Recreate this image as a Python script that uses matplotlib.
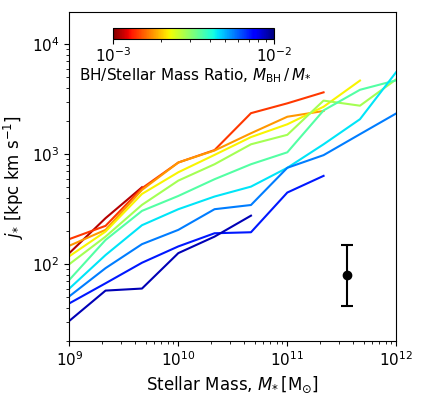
import numpy as np
import matplotlib
matplotlib.use("Agg")
import matplotlib.pyplot as plt
from matplotlib.colors import LogNorm
from matplotlib.cm import ScalarMappable
from matplotlib.ticker import NullFormatter

nan = np.nan
stellar_mass = [1e9, 2.15e9, 4.64e9, 1e10, 2.15e10, 4.64e10, 1e11, 2.15e11, 4.64e11, 1e12]
bh_ratio = [10 ** (-2.95 + 0.1 * k) for k in range(10)]

j_darkred = [126, 262, 500, nan, nan, nan, nan, nan, nan, nan]
j_redorange = [169, 223, 490, 840, 1090, 2360, 2900, 3650, nan, nan]
j_orange = [147, 205, 473, 840, 1080, 1550, 2190, 2470, nan, nan]
j_yellow = [118, 198, 435, 685, 985, 1430, 1870, 2700, 4670, nan]
j_lightgreen = [100, 178, 346, 575, 810, 1230, 1500, 3070, 2760, 4800]
j_aquamarine = [72, 166, 305, 417, 592, 810, 1040, 2500, 3850, 4700]
j_cyan = [60, 121, 226, 316, 412, 507, 752, 1230, 2080, 5600]
j_dodger = [51, 92, 152, 205, 316, 345, 752, 980, 1520, 2350]
j_blue = [44, 67, 103, 145, 191, 195, 448, 635, nan, nan]
j_navy = [30.5, 57.5, 60, 126, 178, 276, nan, nan, nan, nan]
series = [j_darkred, j_redorange, j_orange, j_yellow, j_lightgreen,
          j_aquamarine, j_cyan, j_dodger, j_blue, j_navy]

err_x = 3.5e11
err_y = 80
err_lo = 80 - 42
err_hi = 150 - 80

fig = plt.figure(figsize=(4.36, 3.97), dpi=100)
ax = fig.add_axes([0.159, 0.141, 0.750, 0.828])
cmap = plt.get_cmap("jet_r")
norm = LogNorm(1e-3, 1e-2)
for r, ys in zip(bh_ratio, series):
    ax.plot(stellar_mass, ys, color=cmap(norm(r)), lw=1.5)

ax.errorbar([err_x], [err_y], yerr=[[err_lo], [err_hi]], fmt="o", color="black",
            ms=6, capsize=4, lw=1.5, capthick=1.5)

ax.set_xscale("log")
ax.set_yscale("log")
ax.set_xlim(1e9, 1e12)
ax.set_ylim(20, 1.95e4)
ax.set_xlabel(r"Stellar Mass, $M_{*}\,[\mathrm{M}_{\odot}]$", fontsize=12)
ax.set_ylabel(r"$j_{*}$ [kpc km s$^{-1}$]", fontsize=12)
ax.tick_params(labelsize=11)

cax = fig.add_axes([0.259, 0.902, 0.369, 0.027])
sm = ScalarMappable(norm=norm, cmap=cmap)
cb = fig.colorbar(sm, cax=cax, orientation="horizontal")
cb.ax.xaxis.set_minor_formatter(NullFormatter())
cb.set_ticks([1e-3, 1e-2])
cb.ax.tick_params(labelsize=11, pad=2)
fig.text(0.182, 0.797, r"BH/Stellar Mass Ratio, $M_{\rm BH}\,/\,M_{*}$", fontsize=11)

fig.savefig("out.png", dpi=100)
